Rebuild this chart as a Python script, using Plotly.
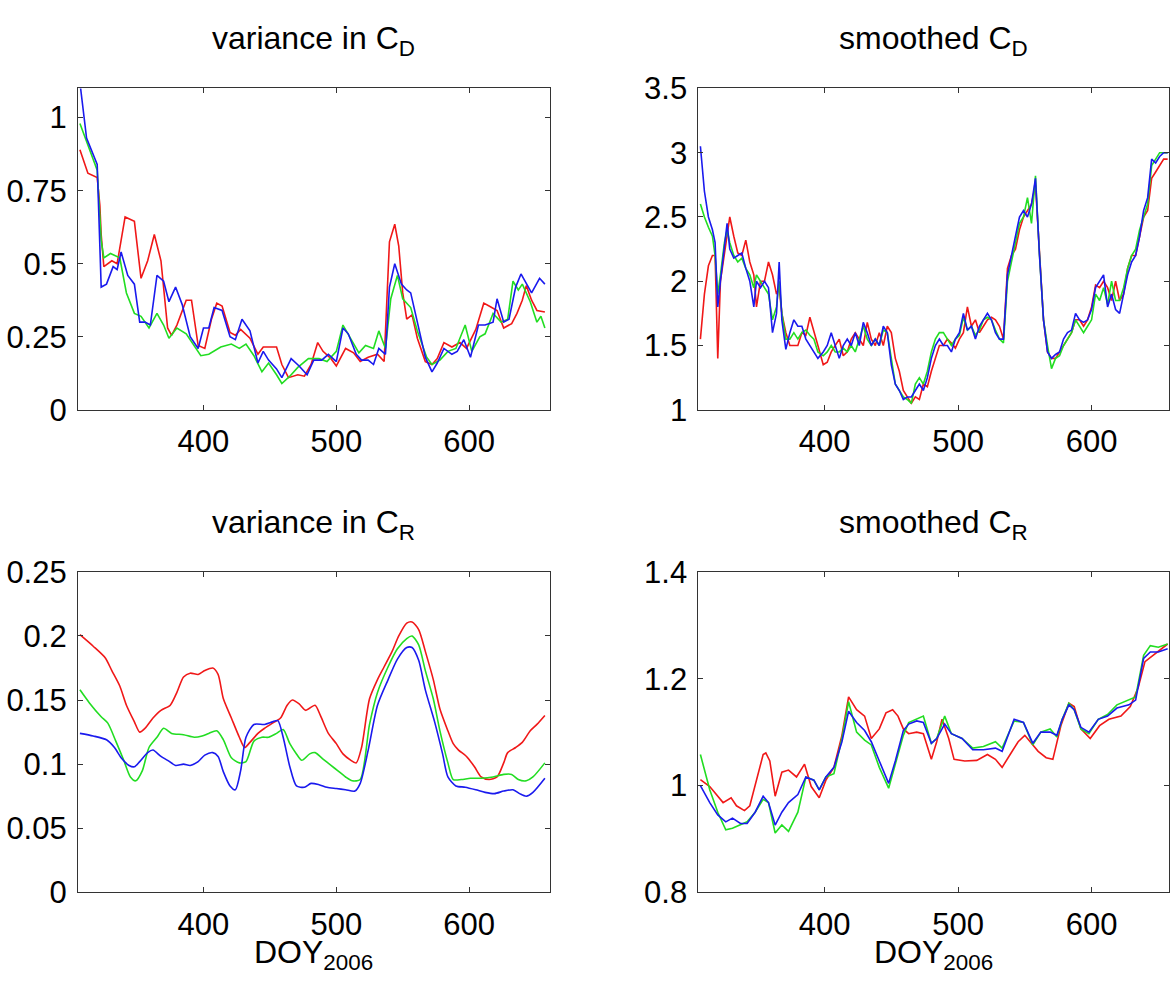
import plotly.graph_objects as go

# ---------------- top-left: variance in C_D ----------------
vcd_red_x = [307,313,320,322,323,325,331,335,341,348,353,358,363,368,373,376,380,387,391,396,401,406,410,414,420,424,428,435,441,445,455,459,464,471,476,481,486,490,496,500,507,513,518,524,531,536,540,544,547,550,553,557,561,567,572,576,581,587,593,598,605,611,615,621,626,632,636,640,643,647,651,657]
vcd_red = [0.89,0.81,0.795,0.7,0.6,0.49,0.51,0.5,0.66,0.645,0.45,0.51,0.6,0.51,0.28,0.255,0.29,0.375,0.375,0.22,0.21,0.31,0.365,0.355,0.265,0.255,0.275,0.245,0.19,0.215,0.215,0.155,0.11,0.12,0.115,0.155,0.23,0.2,0.175,0.15,0.21,0.195,0.165,0.18,0.19,0.165,0.575,0.635,0.56,0.4,0.31,0.325,0.245,0.165,0.155,0.175,0.23,0.215,0.23,0.21,0.275,0.365,0.355,0.34,0.28,0.295,0.33,0.375,0.425,0.375,0.34,0.335]
vcd_green_x = [307,312,320,323,325,330,337,342,348,353,359,365,370,374,380,387,393,398,404,413,421,427,432,438,444,449,455,459,465,471,479,487,493,500,505,511,517,522,528,532,537,541,546,550,556,561,568,572,578,584,590,597,602,608,612,618,624,629,633,637,640,646,651,654,657]
vcd_green = [0.98,0.92,0.82,0.58,0.52,0.535,0.52,0.4,0.33,0.32,0.28,0.33,0.29,0.245,0.28,0.26,0.22,0.185,0.19,0.215,0.225,0.21,0.225,0.185,0.13,0.16,0.12,0.09,0.115,0.145,0.175,0.175,0.165,0.2,0.29,0.24,0.195,0.22,0.21,0.27,0.21,0.38,0.46,0.38,0.35,0.27,0.18,0.155,0.17,0.2,0.21,0.29,0.2,0.25,0.26,0.33,0.3,0.31,0.44,0.41,0.43,0.37,0.3,0.32,0.28]
vcd_blue_x = [307,312,320,323,327,332,335,338,343,348,352,356,360,365,370,374,379,384,390,396,400,404,408,414,420,424,429,435,441,445,449,455,459,466,472,478,483,489,494,500,505,509,515,519,524,528,532,537,540,544,549,553,556,560,567,572,576,581,587,591,596,601,607,612,618,621,626,630,635,639,643,647,653,657]
vcd_blue = [1.12,0.93,0.84,0.42,0.43,0.49,0.48,0.54,0.46,0.43,0.3,0.3,0.29,0.46,0.44,0.37,0.42,0.36,0.25,0.21,0.28,0.28,0.35,0.34,0.25,0.24,0.31,0.27,0.16,0.2,0.17,0.14,0.11,0.175,0.15,0.12,0.17,0.17,0.19,0.165,0.28,0.26,0.19,0.17,0.17,0.155,0.21,0.19,0.42,0.5,0.43,0.41,0.4,0.32,0.18,0.13,0.16,0.21,0.19,0.2,0.24,0.18,0.29,0.29,0.3,0.38,0.3,0.31,0.42,0.465,0.43,0.4,0.45,0.43]

# ---------------- top-right: smoothed C_D ----------------
scd_x = [307,310,313,316,318,320,322,325,327,329,332,335,338,341,344,347,349,352,355,358,361,364,366,368,371,374,377,380,383,386,389,392,395,399,402,405,408,411,414,417,420,423,426,429,432,435,438,441,444,447,450,453,456,459,462,465,468,471,474,477,480,483,486,489,492,495,498,501,504,507,510,513,516,519,522,525,528,531,534,537,540,543,546,549,552,555,558,561,564,567,570,573,576,579,582,585,588,591,594,597,600,603,606,609,612,615,618,621,624,627,630,633,636,639,642,645,648,651,654,657]
scd_red = [1.55,1.9,2.12,2.2,2.2,1.4,2.0,2.2,2.35,2.5,2.35,2.22,2.2,2.32,2.15,2.05,1.8,2.0,2.0,2.15,2.05,1.9,1.95,1.75,1.6,1.5,1.5,1.5,1.6,1.58,1.72,1.6,1.5,1.35,1.37,1.45,1.5,1.55,1.42,1.45,1.55,1.6,1.55,1.5,1.68,1.55,1.5,1.6,1.5,1.65,1.6,1.4,1.3,1.15,1.1,1.05,1.1,1.08,1.2,1.18,1.3,1.4,1.5,1.5,1.55,1.52,1.48,1.55,1.6,1.8,1.65,1.7,1.6,1.65,1.7,1.72,1.7,1.65,1.55,2.1,2.2,2.25,2.4,2.5,2.55,2.6,2.75,2.2,1.7,1.45,1.4,1.4,1.45,1.5,1.55,1.6,1.7,1.7,1.65,1.7,1.8,1.97,1.95,2.0,1.95,1.85,2.0,1.85,1.9,2.1,2.2,2.2,2.35,2.5,2.55,2.8,2.85,2.9,2.95,2.95]
scd_green = [2.6,2.5,2.42,2.35,2.2,1.9,2.05,2.3,2.4,2.3,2.2,2.15,2.18,2.1,2.05,1.95,2.05,2.0,1.95,1.9,1.7,1.8,2.0,1.75,1.55,1.55,1.6,1.55,1.6,1.62,1.58,1.55,1.45,1.42,1.45,1.5,1.45,1.45,1.48,1.45,1.5,1.45,1.55,1.65,1.55,1.5,1.55,1.5,1.62,1.6,1.4,1.2,1.15,1.1,1.08,1.05,1.2,1.25,1.2,1.3,1.45,1.55,1.6,1.6,1.55,1.5,1.55,1.58,1.72,1.62,1.65,1.58,1.62,1.7,1.72,1.7,1.62,1.55,1.52,2.0,2.15,2.3,2.45,2.5,2.65,2.45,2.82,2.2,1.7,1.5,1.32,1.4,1.42,1.5,1.55,1.6,1.7,1.65,1.6,1.65,1.7,1.9,1.85,1.95,1.82,2.0,1.85,1.85,1.95,2.1,2.2,2.25,2.4,2.5,2.6,2.9,2.95,3.0,3.0,3.0]
scd_blue = [3.05,2.7,2.5,2.4,2.3,1.8,2.0,2.3,2.45,2.25,2.18,2.2,2.22,2.1,2.0,1.8,2.0,1.95,2.0,1.95,1.6,1.75,2.15,1.7,1.47,1.6,1.7,1.65,1.65,1.55,1.5,1.45,1.4,1.45,1.5,1.6,1.5,1.4,1.5,1.55,1.5,1.6,1.5,1.68,1.6,1.5,1.55,1.5,1.65,1.6,1.35,1.2,1.15,1.08,1.1,1.1,1.15,1.2,1.15,1.25,1.4,1.5,1.55,1.5,1.5,1.45,1.55,1.6,1.75,1.62,1.65,1.55,1.65,1.7,1.75,1.7,1.6,1.55,1.55,2.05,2.2,2.35,2.5,2.55,2.5,2.6,2.8,2.2,1.7,1.45,1.4,1.43,1.45,1.55,1.6,1.62,1.75,1.7,1.68,1.7,1.78,1.95,2.0,2.05,1.8,1.9,1.78,1.75,1.9,2.05,2.15,2.2,2.35,2.55,2.65,2.95,2.92,2.97,3.0,3.0]

# ---------------- bottom-left: variance in C_R ----------------
vcr_red_x = [307,317,326,331,337,342,348,352,356,362,368,375,380,385,390,396,401,407,411,415,421,427,431,435,441,446,452,458,463,467,472,477,484,488,494,500,505,511,515,519,525,531,536,542,547,553,557,562,567,573,578,584,588,592,598,604,609,615,621,626,629,635,640,646,651,657]
vcr_red = [0.201,0.192,0.183,0.173,0.161,0.146,0.133,0.125,0.128,0.136,0.142,0.146,0.156,0.168,0.171,0.170,0.173,0.175,0.170,0.151,0.136,0.121,0.113,0.117,0.124,0.128,0.132,0.136,0.146,0.150,0.147,0.142,0.146,0.138,0.124,0.116,0.108,0.103,0.101,0.113,0.151,0.166,0.176,0.188,0.200,0.210,0.211,0.205,0.188,0.166,0.143,0.126,0.116,0.111,0.106,0.098,0.090,0.088,0.090,0.101,0.109,0.113,0.117,0.126,0.131,0.138]
vcr_green_x = [307,314,323,328,334,340,345,349,354,359,365,370,376,385,393,399,404,410,415,421,427,432,438,444,449,455,460,465,470,474,480,484,490,496,501,507,512,518,525,531,539,546,553,557,562,567,573,578,584,588,594,601,609,618,626,632,637,643,648,657]
vcr_green = [0.158,0.148,0.137,0.132,0.118,0.103,0.090,0.087,0.095,0.113,0.121,0.128,0.124,0.123,0.121,0.122,0.124,0.126,0.119,0.105,0.101,0.102,0.118,0.121,0.121,0.124,0.127,0.116,0.108,0.103,0.108,0.109,0.104,0.099,0.095,0.090,0.087,0.088,0.131,0.156,0.176,0.190,0.198,0.200,0.193,0.173,0.151,0.126,0.101,0.088,0.088,0.089,0.089,0.090,0.092,0.092,0.088,0.087,0.090,0.101]
vcr_blue_x = [307,317,327,333,338,344,348,352,358,362,368,373,379,385,390,396,401,407,411,415,420,424,428,432,438,446,452,456,460,465,470,476,481,487,493,500,507,514,518,524,531,539,546,553,557,562,567,574,580,584,590,597,605,612,619,626,633,638,643,648,657]
vcr_blue = [0.124,0.122,0.119,0.113,0.105,0.099,0.098,0.102,0.109,0.111,0.106,0.103,0.099,0.100,0.099,0.102,0.107,0.109,0.106,0.094,0.083,0.080,0.095,0.121,0.131,0.131,0.133,0.134,0.121,0.098,0.083,0.082,0.085,0.084,0.082,0.081,0.080,0.079,0.085,0.111,0.146,0.166,0.182,0.191,0.191,0.181,0.158,0.133,0.108,0.090,0.083,0.082,0.080,0.078,0.077,0.079,0.080,0.077,0.075,0.078,0.089]

# ---------------- bottom-right: smoothed C_R ----------------
scr_red_x = [307,314,324,330,334,340,344,349,354,356,359,363,368,373,379,385,390,396,401,407,413,418,424,430,435,441,446,451,455,459,463,469,474,480,484,488,493,497,505,514,522,528,533,539,545,550,556,560,566,571,577,583,587,592,599,606,613,622,629,635,640,649,657]
scr_red = [1.011,0.998,0.968,0.977,0.962,0.953,0.962,1.010,1.058,1.061,1.046,0.980,1.025,1.029,1.016,1.040,0.998,0.977,1.010,1.034,1.094,1.166,1.142,1.130,1.088,1.106,1.136,1.142,1.130,1.106,1.097,1.100,1.097,1.049,1.082,1.124,1.088,1.049,1.046,1.047,1.058,1.049,1.034,1.058,1.082,1.094,1.076,1.064,1.052,1.049,1.112,1.154,1.148,1.106,1.088,1.112,1.124,1.130,1.148,1.184,1.232,1.250,1.265]
scr_x = [307,314,320,326,331,337,342,348,354,358,363,368,373,380,386,392,396,401,407,413,418,424,430,435,441,448,453,459,463,469,474,480,484,490,495,503,511,519,528,533,542,549,556,562,569,574,578,583,587,592,598,605,612,619,628,633,639,644,650,657]
scr_green = [1.058,0.992,0.950,0.917,0.920,0.926,0.932,0.950,0.974,0.968,0.911,0.926,0.914,0.950,1.016,1.010,0.992,1.016,1.022,1.088,1.157,1.100,1.085,1.076,1.034,0.995,1.040,1.094,1.118,1.124,1.130,1.079,1.088,1.130,1.097,1.088,1.070,1.073,1.082,1.070,1.121,1.118,1.076,1.100,1.106,1.091,1.124,1.154,1.142,1.106,1.097,1.124,1.133,1.151,1.160,1.166,1.244,1.262,1.259,1.265]
scr_blue = [1.000,0.968,0.945,0.932,0.939,0.929,0.929,0.950,0.980,0.968,0.926,0.950,0.968,0.983,1.016,1.010,0.992,1.016,1.034,1.082,1.139,1.118,1.103,1.082,1.046,1.004,1.046,1.103,1.115,1.121,1.118,1.079,1.088,1.115,1.097,1.088,1.067,1.067,1.070,1.064,1.124,1.118,1.079,1.100,1.100,1.094,1.124,1.151,1.142,1.109,1.100,1.124,1.130,1.145,1.151,1.160,1.238,1.250,1.250,1.256]

# ---------------- axes / labels ----------------
titles = ["variance in C<sub>D</sub>", "smoothed C<sub>D</sub>",
          "variance in C<sub>R</sub>", "smoothed C<sub>R</sub>"]
xlabel = "DOY<sub>2006</sub>"
x_ticks = [400, 500, 600]
yticks_vcd = [0, 0.25, 0.5, 0.75, 1]
yticks_scd = [1, 1.5, 2, 2.5, 3, 3.5]
yticks_vcr = [0, 0.05, 0.1, 0.15, 0.2, 0.25]
yticks_scr = [0.8, 1, 1.2, 1.4]

RED, GREEN, BLUE = "#f01818", "#22dd22", "#1a1aee"
W, H = 1170, 1002
FONT = "Liberation Sans, Arial, Helvetica, sans-serif"

def px_x(p):
    return p / W

def px_y(p):
    return 1 - p / H

fig = go.Figure()

def add(xs, ys, color, ax, shape="linear"):
    fig.add_trace(go.Scatter(x=xs, y=ys, mode="lines",
                             line=dict(color=color, width=1.6, shape=shape,
                                       smoothing=0.7 if shape == "spline" else None),
                             xaxis="x" + ax, yaxis="y" + ax, showlegend=False,
                             hoverinfo="skip"))

add(vcd_red_x, vcd_red, RED, "")
add(vcd_green_x, vcd_green, GREEN, "")
add(vcd_blue_x, vcd_blue, BLUE, "")
add(scd_x, scd_red, RED, "2")
add(scd_x, scd_green, GREEN, "2")
add(scd_x, scd_blue, BLUE, "2")
add(vcr_red_x, vcr_red, RED, "3", "spline")
add(vcr_green_x, vcr_green, GREEN, "3", "spline")
add(vcr_blue_x, vcr_blue, BLUE, "3", "spline")
add(scr_red_x, scr_red, RED, "4")
add(scr_x, scr_green, GREEN, "4")
add(scr_x, scr_blue, BLUE, "4")

left_dom = [px_x(78), px_x(550)]
right_dom = [px_x(699), 1.0]
top_dom = [px_y(407), px_y(74)]
bot_dom = [px_y(907), px_y(575)]

axis_common = dict(showline=True, linecolor="#333333", linewidth=1, mirror="ticks",
                   ticks="inside", ticklen=5, tickcolor="#333333", showgrid=False,
                   zeroline=False, tickfont=dict(size=31, color="black", family=FONT))

def xa(dom, anchor, rng):
    d = dict(axis_common)
    d.update(domain=dom, anchor=anchor, range=rng, tickvals=x_ticks, ticklabelstandoff=4)
    return d

def ya(dom, anchor, rng, ticks):
    d = dict(axis_common)
    d.update(domain=dom, anchor=anchor, range=rng, tickvals=ticks,
             ticktext=[("%g" % t) for t in ticks], ticklabelstandoff=4)
    return d

fig.update_layout(
    width=W, height=H, margin=dict(l=0, r=0, t=0, b=0),
    paper_bgcolor="white", plot_bgcolor="white",
    font=dict(family=FONT, color="black"),
    xaxis=xa(left_dom, "y", [305.5, 660.5]),
    yaxis=ya(top_dom, "x", [0, 1.1], yticks_vcd),
    xaxis2=xa(right_dom, "y2", [305.5, 658]),
    yaxis2=ya(top_dom, "x2", [1, 3.5], yticks_scd),
    xaxis3=xa(left_dom, "y3", [305.5, 660.5]),
    yaxis3=ya(bot_dom, "x3", [0, 0.25], yticks_vcr),
    xaxis4=xa(right_dom, "y4", [305.5, 658]),
    yaxis4=ya(bot_dom, "x4", [0.8, 1.4], yticks_scr),
)

centers = [(78 + 550) / 2, (699 + 1170) / 2]
ann = []
for i, t in enumerate(titles):
    cx = centers[i % 2]
    ybot = 48 if i < 2 else 549
    ann.append(dict(text=t, x=px_x(cx), y=px_y(ybot), xref="paper", yref="paper",
                    xanchor="center", yanchor="bottom", showarrow=False,
                    font=dict(size=32, family=FONT, color="black")))
for cx in centers:
    ann.append(dict(text=xlabel, x=px_x(cx), y=px_y(995), xref="paper", yref="paper",
                    xanchor="center", yanchor="bottom", showarrow=False,
                    font=dict(size=32, family=FONT, color="black")))
fig.update_layout(annotations=ann)

fig.write_html("out.html")
